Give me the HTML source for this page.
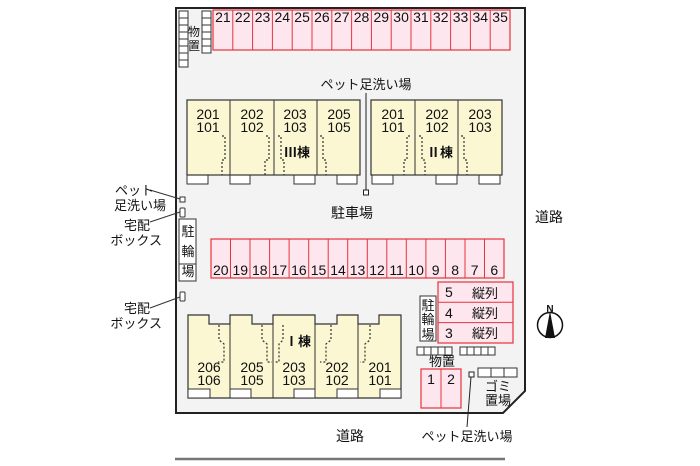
<!DOCTYPE html>
<html><head><meta charset="utf-8"><style>
html,body{margin:0;padding:0;background:#fff;width:700px;height:466px;overflow:hidden}
svg{display:block}
text{font-family:"Liberation Sans","Noto Sans CJK JP",sans-serif;fill:#111}
</style></head><body>
<svg width="700" height="466" viewBox="0 0 700 466" xmlns="http://www.w3.org/2000/svg">
<polygon points="176,8 525,8 525,391 503,413 176,413" fill="#f3f3f3" stroke="#222" stroke-width="2"/>
<line x1="175" y1="459" x2="505" y2="459" stroke="#777" stroke-width="2.5"/>
<text x="350" y="441" font-size="14" text-anchor="middle">道路</text>
<text x="549" y="222" font-size="14" text-anchor="middle">道路</text>
<circle cx="550" cy="325" r="12.5" fill="#fff" stroke="#111" stroke-width="1.5"/>
<polygon points="550,311 545,338 555,338" fill="#111"/>
<text x="550" y="312" font-size="10" font-weight="bold" text-anchor="middle">N</text>

<g fill="#fff" stroke="#333" stroke-width="1">
<rect x="179" y="11" width="9" height="7"/><rect x="179" y="18" width="9" height="7"/><rect x="179" y="25" width="9" height="7"/><rect x="179" y="32" width="9" height="7"/><rect x="179" y="39" width="9" height="7"/><rect x="179" y="46" width="9" height="7"/><rect x="179" y="53" width="9" height="7"/><rect x="179" y="60" width="9" height="7"/>
<rect x="202" y="11" width="9" height="7"/><rect x="202" y="18" width="9" height="7"/><rect x="202" y="25" width="9" height="7"/><rect x="202" y="32" width="9" height="7"/><rect x="202" y="39" width="9" height="7"/><rect x="202" y="46" width="9" height="7"/>
</g>
<text x="194" y="36" font-size="12" text-anchor="middle">物</text>
<text x="194" y="50" font-size="12" text-anchor="middle">置</text>

<rect x="213" y="10" width="297" height="40" fill="#fde6ee" stroke="#e8323c" stroke-width="1.2"/>
<g stroke="#e8323c" stroke-width="1">
<line x1="232.8" y1="10" x2="232.8" y2="50"/><line x1="252.6" y1="10" x2="252.6" y2="50"/><line x1="272.4" y1="10" x2="272.4" y2="50"/><line x1="292.2" y1="10" x2="292.2" y2="50"/><line x1="312" y1="10" x2="312" y2="50"/><line x1="331.8" y1="10" x2="331.8" y2="50"/><line x1="351.6" y1="10" x2="351.6" y2="50"/><line x1="371.4" y1="10" x2="371.4" y2="50"/><line x1="391.2" y1="10" x2="391.2" y2="50"/><line x1="411" y1="10" x2="411" y2="50"/><line x1="430.8" y1="10" x2="430.8" y2="50"/><line x1="450.6" y1="10" x2="450.6" y2="50"/><line x1="470.4" y1="10" x2="470.4" y2="50"/><line x1="490.2" y1="10" x2="490.2" y2="50"/>
</g>
<g font-size="14" text-anchor="middle">
<text x="222.9" y="22">21</text><text x="242.7" y="22">22</text><text x="262.5" y="22">23</text><text x="282.3" y="22">24</text><text x="302.1" y="22">25</text><text x="321.9" y="22">26</text><text x="341.7" y="22">27</text><text x="361.5" y="22">28</text><text x="381.3" y="22">29</text><text x="401.1" y="22">30</text><text x="420.9" y="22">31</text><text x="440.7" y="22">32</text><text x="460.5" y="22">33</text><text x="480.3" y="22">34</text><text x="500.1" y="22">35</text>
</g>

<text x="366" y="89" font-size="13" text-anchor="middle">ペット足洗い場</text>
<line x1="366" y1="93" x2="366" y2="190" stroke="#222" stroke-width="1"/>
<rect x="363.5" y="190" width="5" height="5" fill="#fff" stroke="#222"/>

<g fill="#fff" stroke="#333">
<rect x="187" y="175" width="21" height="9"/><rect x="230" y="175" width="20" height="9"/><rect x="294" y="175" width="21" height="9"/><rect x="337" y="175" width="20" height="9"/>
<rect x="372" y="175" width="21" height="9"/><rect x="436" y="175" width="21" height="9"/><rect x="479" y="175" width="21" height="9"/>
</g>
<rect x="187" y="100" width="173" height="75" fill="#fbf7d2" stroke="#333" stroke-width="1.2"/>
<g stroke="#333"><line x1="230" y1="100" x2="230" y2="175"/><line x1="274" y1="100" x2="274" y2="175"/><line x1="317" y1="100" x2="317" y2="175"/></g>
<rect x="371" y="100" width="131" height="75" fill="#fbf7d2" stroke="#333" stroke-width="1.2"/>
<g stroke="#333"><line x1="415" y1="100" x2="415" y2="175"/><line x1="458" y1="100" x2="458" y2="175"/></g>
<g stroke="#333" stroke-dasharray="2,2" fill="none" stroke-width="1.2">
<polyline points="222,136 225,136 225,160 222,160 222,175"/>
<polyline points="266,136 269,136 269,160 265,160 265,175"/>
<polyline points="278,136 281,136 281,160 284,160 284,175"/>
<polyline points="320,136 323,136 323,160 326,160 326,175"/>
<polyline points="410,136 407,136 407,160 404,160 404,175"/>
<polyline points="419,136 422,136 422,160 425,160 425,175"/>
<polyline points="461,136 464,136 464,160 467,160 467,175"/>
</g>
<g font-size="14" text-anchor="middle">
<text x="208" y="119">201</text><text x="208" y="132">101</text>
<text x="252" y="119">202</text><text x="252" y="132">102</text>
<text x="295" y="119">203</text><text x="295" y="132">103</text>
<text x="339" y="119">205</text><text x="339" y="132">105</text>
<text x="393" y="119">201</text><text x="393" y="132">101</text>
<text x="437" y="119">202</text><text x="437" y="132">102</text>
<text x="480" y="119">203</text><text x="480" y="132">103</text>
</g>
<text x="297" y="157" font-size="13" font-weight="bold" text-anchor="middle">Ⅲ棟</text>
<text x="440" y="157" font-size="13" font-weight="bold" text-anchor="middle">Ⅱ棟</text>

<text x="352" y="218" font-size="14" text-anchor="middle">駐車場</text>

<g fill="#fff" stroke="#333">
<rect x="180" y="197" width="5" height="5"/><rect x="180" y="208" width="5" height="9" rx="1"/><rect x="180" y="292" width="5" height="9" rx="1"/>
<rect x="179" y="219" width="17" height="62"/>
</g>
<line x1="179" y1="264" x2="196" y2="264" stroke="#333"/>
<g font-size="13" text-anchor="middle"><text x="188" y="236">駐</text><text x="188" y="256">輪</text><text x="188" y="276">場</text></g>
<g stroke="#333" fill="none"><line x1="150" y1="190" x2="180" y2="199"/><line x1="150" y1="222" x2="180" y2="212"/><line x1="150" y1="308" x2="180" y2="297"/></g>
<g font-size="13" text-anchor="end">
<text x="154" y="195">ペット</text><text x="166" y="210">足洗い場</text>
<text x="150" y="230">宅配</text><text x="162" y="245">ボックス</text>
<text x="150" y="313">宅配</text><text x="162" y="328">ボックス</text>
</g>

<rect x="211" y="239" width="293" height="39" fill="#fde6ee" stroke="#e8323c" stroke-width="1.2"/>
<g stroke="#e8323c">
<line x1="230.5" y1="239" x2="230.5" y2="278"/><line x1="250" y1="239" x2="250" y2="278"/><line x1="269.6" y1="239" x2="269.6" y2="278"/><line x1="289.1" y1="239" x2="289.1" y2="278"/><line x1="308.7" y1="239" x2="308.7" y2="278"/><line x1="328.2" y1="239" x2="328.2" y2="278"/><line x1="347.7" y1="239" x2="347.7" y2="278"/><line x1="367.3" y1="239" x2="367.3" y2="278"/><line x1="386.8" y1="239" x2="386.8" y2="278"/><line x1="406.3" y1="239" x2="406.3" y2="278"/><line x1="425.9" y1="239" x2="425.9" y2="278"/><line x1="445.4" y1="239" x2="445.4" y2="278"/><line x1="465" y1="239" x2="465" y2="278"/><line x1="484.5" y1="239" x2="484.5" y2="278"/>
</g>
<g font-size="14" text-anchor="middle">
<text x="220.8" y="275">20</text><text x="240.3" y="275">19</text><text x="259.8" y="275">18</text><text x="279.4" y="275">17</text><text x="298.9" y="275">16</text><text x="318.5" y="275">15</text><text x="338" y="275">14</text><text x="357.5" y="275">13</text><text x="377" y="275">12</text><text x="396.6" y="275">11</text><text x="416.1" y="275">10</text><text x="435.7" y="275">9</text><text x="455.2" y="275">8</text><text x="474.7" y="275">7</text><text x="494.3" y="275">6</text>
</g>

<rect x="438" y="282" width="75" height="61" fill="#fde6ee" stroke="#e8323c" stroke-width="1.2"/>
<g stroke="#e8323c"><line x1="438" y1="302.3" x2="513" y2="302.3"/><line x1="438" y1="322.6" x2="513" y2="322.6"/></g>
<g font-size="14"><text x="445" y="297">5</text><text x="445" y="318">4</text><text x="445" y="338">3</text></g>
<g font-size="13"><text x="472" y="298">縦列</text><text x="472" y="318">縦列</text><text x="472" y="338">縦列</text></g>
<rect x="420" y="296" width="16" height="45" fill="#fff" stroke="#333"/>
<g font-size="13" text-anchor="middle"><text x="428" y="310">駐</text><text x="428" y="324">輪</text><text x="428" y="339">場</text></g>

<polygon points="188,315 209,315 209,324 230,324 230,315 252,315 252,324 273,324 273,315 315,315 315,324 337,324 337,315 358,315 358,324 379,324 379,315 401,315 401,398 188,398" fill="#fbf7d2" stroke="#333" stroke-width="1.2"/>
<g stroke="#333"><line x1="230" y1="315" x2="230" y2="398"/><line x1="273" y1="324" x2="273" y2="398"/><line x1="315" y1="324" x2="315" y2="398"/><line x1="358" y1="324" x2="358" y2="398"/></g>
<g fill="#fff" stroke="#333"><rect x="188" y="389" width="22" height="9"/><rect x="230" y="389" width="21" height="9"/><rect x="294" y="389" width="21" height="9"/><rect x="337" y="389" width="21" height="9"/><rect x="380" y="389" width="21" height="9"/></g>
<g stroke="#333" stroke-dasharray="2,2" fill="none" stroke-width="1.2">
<polyline points="219,325 219,340 224,344 224,362 218,362"/>
<polyline points="262,325 262,340 267,344 267,362 272,362"/>
<polyline points="283,325 283,340 279,344 279,362 274,362"/>
<polyline points="331,325 331,340 326,344 326,362 320,362"/>
<polyline points="370,325 370,340 365,344 365,362 360,362"/>
</g>
<g font-size="14" text-anchor="middle">
<text x="209" y="372">206</text><text x="209" y="385">106</text>
<text x="252" y="372">205</text><text x="252" y="385">105</text>
<text x="294" y="372">203</text><text x="294" y="385">103</text>
<text x="337" y="372">202</text><text x="337" y="385">102</text>
<text x="380" y="372">201</text><text x="380" y="385">101</text>
</g>
<text x="298" y="346" font-size="13" font-weight="bold" text-anchor="middle">Ⅰ棟</text>

<g fill="#fff" stroke="#333">
<rect x="417" y="347" width="7" height="8"/><rect x="424" y="347" width="7" height="8"/><rect x="431" y="347" width="7" height="8"/><rect x="438" y="347" width="7" height="8"/><rect x="445" y="347" width="7" height="8"/>
<rect x="460" y="347" width="7" height="8"/><rect x="467" y="347" width="7" height="8"/><rect x="474" y="347" width="7" height="8"/><rect x="481" y="347" width="7" height="8"/><rect x="488" y="347" width="7" height="8"/>
<rect x="478" y="368" width="13" height="9"/><rect x="491" y="368" width="13" height="9"/><rect x="504" y="368" width="13" height="9"/>
</g>
<text x="442" y="366" font-size="13" text-anchor="middle">物置</text>
<rect x="421" y="369" width="40" height="39" fill="#fde6ee" stroke="#e8323c" stroke-width="1.2"/>
<line x1="441" y1="369" x2="441" y2="408" stroke="#e8323c"/>
<g font-size="14" text-anchor="middle"><text x="431" y="384">1</text><text x="451" y="384">2</text></g>
<text x="498" y="391" font-size="13" text-anchor="middle">ゴミ</text>
<text x="498" y="405" font-size="13" text-anchor="middle">置場</text>
<rect x="469" y="372" width="5" height="5" fill="#fff" stroke="#222"/>
<line x1="471" y1="377" x2="467" y2="427" stroke="#222"/>
<text x="467" y="441" font-size="13" text-anchor="middle">ペット足洗い場</text>
</svg>
</body></html>
